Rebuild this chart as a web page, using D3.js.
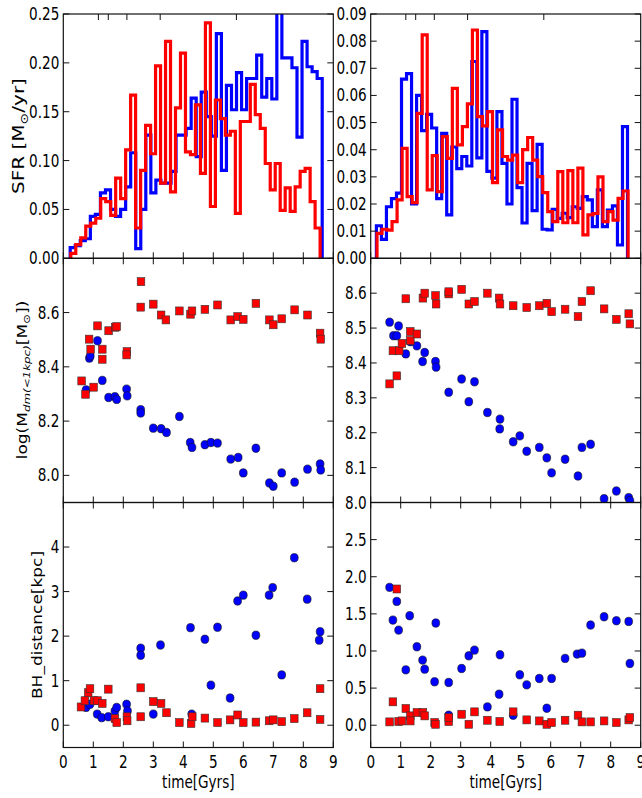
<!DOCTYPE html>
<html>
<head>
<meta charset="utf-8">
<script src="https://cdn.jsdelivr.net/npm/d3@7"></script>
<style>
  html, body { margin: 0; padding: 0; background: #fff; }
  svg { display: block; }
  text { font-family: "DejaVu Sans", sans-serif; fill: #000; }
</style>
</head>
<body>
<div id="chart"></div>
<script>
// ---- data ----
// SFR histograms, 50 equal bins between the given start / end times (Gyr)
var sfrLeftBlueRange = [0.23, 8.63];
var sfrLeftBlue = [0.011, 0.013, 0.018, 0.020, 0.043, 0.045, 0.067, 0.070, 0.050, 0.043,
                   0.050, 0.073, 0.108, 0.010, 0.050, 0.126, 0.067, 0.080, 0.077, 0.077,
                   0.089, 0.126, 0.126, 0.133, 0.164, 0.104, 0.170, 0.145, 0.125, 0.230,
                   0.090, 0.177, 0.152, 0.190, 0.152, 0.184, 0.184, 0.208, 0.165, 0.184,
                   0.163, 0.260, 0.205, 0.205, 0.195, 0.124, 0.222, 0.196, 0.191, 0.184];
var sfrLeftRedRange = [0.25, 8.56];
var sfrLeftRed = [0.005, 0.014, 0.021, 0.033, 0.036, 0.041, 0.061, 0.058, 0.044, 0.082,
                  0.061, 0.111, 0.167, 0.031, 0.090, 0.136, 0.107, 0.197, 0.077, 0.222,
                  0.068, 0.154, 0.210, 0.109, 0.106, 0.157, 0.087, 0.241, 0.053, 0.162,
                  0.143, 0.126, 0.130, 0.046, 0.140, 0.140, 0.178, 0.147, 0.133, 0.097,
                  0.070, 0.097, 0.049, 0.072, 0.048, 0.073, 0.089, 0.092, 0.058, 0.031];
var sfrRightBlueRange = [0.19, 8.56];
var sfrRightBlue = [0.012, 0.007, 0.019, 0.022, 0.024, 0.066, 0.068, 0.020, 0.060, 0.047,
                    0.053, 0.048, 0.022, 0.046, 0.016, 0.041, 0.033, 0.0375, 0.034, 0.0725,
                    0.037, 0.0835, 0.032, 0.0295, 0.054, 0.035, 0.020, 0.0586, 0.026, 0.013,
                    0.035, 0.0176, 0.042, 0.0107, 0.0105, 0.018, 0.0147, 0.0166, 0.015, 0.019,
                    0.0184, 0.0227, 0.0215, 0.0117, 0.0252, 0.0117, 0.0178, 0.0193, 0.0049, 0.0485];
var sfrRightRedRange = [0.21, 8.58];
var sfrRightRed = [0.0092, 0.0107, 0.0104, 0.0135, 0.0215, 0.0405, 0.0227, 0.0205, 0.0534, 0.0823,
                   0.0252, 0.0378, 0.0246, 0.0448, 0.0368, 0.0626, 0.0418, 0.0485, 0.0569, 0.0841,
                   0.0522, 0.0488, 0.054, 0.0279, 0.0473, 0.0375, 0.0362, 0.038, 0.0279, 0.040,
                   0.0445, 0.0362, 0.0301, 0.0242, 0.0172, 0.0135, 0.0319, 0.0131, 0.0323, 0.0131,
                   0.0332, 0.0086, 0.016, 0.0165, 0.030, 0.0135, 0.0172, 0.0141, 0.0221, 0.0248];

// log(M_dm(<1kpc)) : [time, value]
var dmLeftBlue = [[0.76,8.315],[0.87,8.432],[0.90,8.44],[1.14,8.496],[1.30,8.35],[1.51,8.287],[1.72,8.29],
  [1.78,8.28],[2.11,8.318],[2.13,8.293],[2.58,8.242],[2.58,8.23],[3.0,8.174],[3.26,8.172],[3.44,8.158],
  [3.87,8.217],[4.23,8.121],[4.29,8.103],[4.72,8.113],[4.92,8.121],[5.14,8.119],[5.58,8.06],[5.83,8.066],
  [6.0,8.009],[6.42,8.10],[6.87,7.972],[7.0,7.96],[7.28,8.009],[7.71,7.975],[8.14,8.023],[8.56,8.042],[8.58,8.02]];
var dmLeftRed = [[0.61,8.348],[0.74,8.299],[0.86,8.502],[0.91,8.465],[1.01,8.325],[1.14,8.551],[1.30,8.465],
  [1.30,8.428],[1.51,8.533],[1.73,8.546],[1.78,8.548],[2.12,8.456],[2.11,8.444],[2.59,8.714],[2.58,8.62],
  [3.0,8.631],[3.26,8.591],[3.42,8.573],[3.87,8.606],[4.24,8.594],[4.29,8.606],[4.72,8.612],[5.14,8.628],
  [5.58,8.573],[5.81,8.585],[6.0,8.575],[6.42,8.634],[6.87,8.573],[7.0,8.555],[7.28,8.577],[7.71,8.61],
  [8.14,8.591],[8.56,8.524],[8.58,8.502]];
var dmRightBlue = [[0.63,8.517],[0.76,8.478],[0.87,8.478],[0.93,8.506],[1.17,8.426],[1.32,8.461],[1.54,8.449],
  [1.73,8.404],[1.80,8.43],[2.16,8.404],[2.18,8.388],[2.60,8.316],[3.03,8.354],[3.27,8.289],[3.46,8.346],
  [3.89,8.258],[4.30,8.211],[4.31,8.239],[4.75,8.174],[4.97,8.191],[5.20,8.147],[5.62,8.158],[5.87,8.128],
  [6.03,8.085],[6.48,8.124],[6.91,8.076],[7.04,8.158],[7.33,8.167],[7.78,8.011],[8.19,8.033],[8.60,8.014],[8.64,8.005]];
var dmRightRed = [[0.63,8.34],[0.74,8.435],[0.87,8.363],[0.95,8.435],[1.04,8.456],[1.17,8.584],[1.32,8.49],
  [1.32,8.464],[1.54,8.483],[1.74,8.586],[1.80,8.60],[2.16,8.593],[2.18,8.569],[2.60,8.598],[2.60,8.604],
  [3.03,8.611],[3.27,8.569],[3.46,8.576],[3.89,8.60],[4.28,8.586],[4.31,8.569],[4.75,8.564],[5.20,8.559],
  [5.62,8.564],[5.87,8.571],[6.03,8.547],[6.48,8.554],[6.91,8.533],[7.04,8.576],[7.33,8.607],[7.78,8.555],
  [8.19,8.525],[8.60,8.541],[8.64,8.512]];

// BH distance [kpc] : [time, value]
var bhLeftBlue = [[0.76,0.40],[0.89,0.47],[1.13,0.25],[1.28,0.17],[1.50,0.19],[1.72,0.32],[1.78,0.40],
  [2.11,0.47],[2.14,0.32],[2.58,1.73],[2.58,1.57],[3.0,0.25],[3.24,1.80],[4.24,2.19],[4.28,0.25],[4.72,1.93],
  [4.92,0.90],[5.14,2.20],[5.56,0.61],[5.81,2.79],[6.0,2.92],[6.42,2.02],[6.86,2.92],[6.98,3.09],[7.28,1.13],
  [7.70,3.76],[8.13,2.83],[8.56,2.10],[8.53,1.91]];
var bhLeftRed = [[0.59,0.41],[0.72,0.55],[0.83,0.73],[0.89,0.82],[1.02,0.55],[1.14,0.55],[1.30,0.49],
  [1.50,0.81],[1.72,0.15],[1.78,0.06],[2.12,0.19],[2.13,0.10],[2.58,0.84],[2.58,0.19],[3.0,0.53],[3.26,0.49],
  [3.44,0.28],[3.87,0.06],[4.26,0.04],[4.30,0.19],[4.72,0.16],[5.14,0.06],[5.56,0.12],[5.81,0.23],[6.0,0.06],
  [6.42,0.07],[6.86,0.10],[7.0,0.12],[7.28,0.08],[7.70,0.15],[8.13,0.28],[8.56,0.82],[8.56,0.13]];
var bhRightBlue = [[0.63,1.857],[0.74,1.416],[0.87,1.668],[0.93,1.281],[1.17,0.746],[1.30,1.475],[1.54,1.057],
  [1.73,0.877],[1.80,0.755],[2.13,0.585],[2.17,1.376],[2.60,0.576],[2.60,0.135],[3.03,0.764],[3.27,0.935],
  [3.46,1.012],[3.89,0.247],[4.28,0.418],[4.31,0.949],[4.75,0.135],[4.97,0.679],[5.20,0.544],[5.62,0.63],
  [5.87,0.229],[6.03,0.63],[6.48,0.90],[6.88,0.958],[7.04,0.971],[7.33,1.349],[7.78,1.461],[8.19,1.407],
  [8.60,1.398],[8.64,0.832]];
var bhRightRed = [[0.63,0.045],[0.74,0.315],[0.87,1.835],[0.93,0.05],[1.04,0.058],[1.17,0.225],[1.32,0.126],
  [1.32,0.058],[1.54,0.171],[1.74,0.171],[1.80,0.126],[2.13,0.036],[2.16,0.013],[2.60,0.05],[2.60,0.103],
  [3.03,0.148],[3.27,0.013],[3.46,0.18],[3.89,0.067],[4.30,0.05],[4.75,0.18],[5.20,0.072],[5.62,0.058],
  [5.87,0.013],[6.03,0.036],[6.48,0.067],[6.91,0.135],[7.04,0.045],[7.33,0.045],[7.78,0.058],[8.19,0.036],
  [8.60,0.072],[8.64,0.103]];

// tick values
var timeTicks = [0, 1, 2, 3, 4, 5, 6, 7, 8, 9];
var redshiftTickTimes = [1.17, 1.5, 2.12, 3.23, 5.77];   // unlabelled ticks on the top spine
var sfrLeftTicks = [0, 0.05, 0.10, 0.15, 0.20, 0.25];
var sfrRightTicks = [0, 0.01, 0.02, 0.03, 0.04, 0.05, 0.06, 0.07, 0.08, 0.09];
var dmLeftTicks = [8.0, 8.2, 8.4, 8.6];
var dmRightTicks = [8.0, 8.1, 8.2, 8.3, 8.4, 8.5, 8.6];
var bhLeftTicks = [0, 1, 2, 3, 4];
var bhRightTicks = [0, 0.5, 1.0, 1.5, 2.0, 2.5];

// ---- layout ----
var W = 642, H = 798;
var BLUE = "#0000ff", RED = "#ff0000";
var FS = 17, SQUEEZE = 0.8;   // the figure's text is horizontally squeezed
var cols = [{x0: 63.3, x1: 333.3}, {x0: 370.7, x1: 640.7}];
var rows = [{y0: 14, y1: 258.3}, {y0: 258.3, y1: 502.5}, {y0: 502.5, y1: 747.5}];

var svg = d3.select("#chart").append("svg").attr("width", W).attr("height", H);
var defs = svg.append("defs");

function label(g, x, y, str, anchor, rotate, size) {
  var t = g.append("g")
    .attr("transform", "translate(" + x + "," + y + ") scale(" + SQUEEZE + ",1)" + (rotate ? " rotate(-90)" : ""))
    .append("text")
    .attr("text-anchor", anchor || "middle")
    .attr("font-size", size || FS);
  if (str != null) t.text(str);
  return t;
}

function makePanel(ci, ri, yDomain, yTicks, fmt, opts) {
  var c = cols[ci], r = rows[ri];
  var x = d3.scaleLinear().domain([0, 9]).range([c.x0, c.x1]);
  var y = d3.scaleLinear().domain(yDomain).range([r.y1, r.y0]);
  var id = "clip" + ci + ri;
  defs.append("clipPath").attr("id", id).append("rect")
    .attr("x", c.x0).attr("y", r.y0).attr("width", c.x1 - c.x0).attr("height", r.y1 - r.y0);
  var g = svg.append("g");
  var plot = g.append("g").attr("clip-path", "url(#" + id + ")");

  var tl = 6;
  var ticks = g.append("g").attr("stroke", "#111").attr("stroke-width", 1);
  timeTicks.forEach(function(t) {
    ticks.append("line").attr("x1", x(t)).attr("x2", x(t)).attr("y1", r.y1).attr("y2", r.y1 - tl);
  });
  var topTicks = opts.redshiftTop ? redshiftTickTimes : timeTicks;
  topTicks.forEach(function(t) {
    ticks.append("line").attr("x1", x(t)).attr("x2", x(t)).attr("y1", r.y0).attr("y2", r.y0 + tl);
  });
  yTicks.forEach(function(v) {
    ticks.append("line").attr("x1", c.x0).attr("x2", c.x0 + tl).attr("y1", y(v)).attr("y2", y(v));
    ticks.append("line").attr("x1", c.x1).attr("x2", c.x1 - tl).attr("y1", y(v)).attr("y2", y(v));
    label(g, c.x0 - 4, y(v) + 6, d3.format(fmt)(v), "end");
  });

  if (opts.xLabels) {
    timeTicks.forEach(function(t) { label(g, x(t), r.y1 + 20.5, String(t)); });
    label(g, (c.x0 + c.x1) / 2, r.y1 + 40, "time[Gyrs]");
  }

  g.append("rect")
    .attr("x", c.x0).attr("y", r.y0).attr("width", c.x1 - c.x0).attr("height", r.y1 - r.y0)
    .attr("fill", "none").attr("stroke", "#111").attr("stroke-width", 1.2);

  return {x: x, y: y, plot: plot};
}

function stepHist(p, values, range, color) {
  var bw = (range[1] - range[0]) / values.length;
  var pts = [[range[0], 0]];
  values.forEach(function(v, i) {
    pts.push([range[0] + i * bw, v]);
    pts.push([range[0] + (i + 1) * bw, v]);
  });
  pts.push([range[1], 0]);
  var line = d3.line().x(function(d) { return p.x(d[0]); }).y(function(d) { return p.y(d[1]); });
  p.plot.append("path").attr("d", line(pts))
    .attr("fill", "none").attr("stroke", color).attr("stroke-width", 3.2).attr("stroke-linejoin", "miter");
}

function circles(p, data) {
  p.plot.append("g").selectAll("ellipse").data(data).enter().append("ellipse")
    .attr("cx", function(d) { return p.x(d[0]); })
    .attr("cy", function(d) { return p.y(d[1]); })
    .attr("rx", 3.9).attr("ry", 4.2)
    .attr("fill", BLUE).attr("stroke", "#111").attr("stroke-width", 0.6);
}

function squares(p, data) {
  p.plot.append("g").selectAll("rect").data(data).enter().append("rect")
    .attr("x", function(d) { return p.x(d[0]) - 3.8; })
    .attr("y", function(d) { return p.y(d[1]) - 4.0; })
    .attr("width", 7.6).attr("height", 8.0)
    .attr("fill", RED).attr("stroke", "#333").attr("stroke-width", 0.6);
}

// top row: star formation rate
var pSfrL = makePanel(0, 0, [0, 0.25], sfrLeftTicks, ".2f", {redshiftTop: true});
stepHist(pSfrL, sfrLeftBlue, sfrLeftBlueRange, BLUE);
stepHist(pSfrL, sfrLeftRed, sfrLeftRedRange, RED);
var pSfrR = makePanel(1, 0, [0, 0.09], sfrRightTicks, ".2f", {redshiftTop: true});
stepHist(pSfrR, sfrRightBlue, sfrRightBlueRange, BLUE);
stepHist(pSfrR, sfrRightRed, sfrRightRedRange, RED);

// middle row: central dark matter mass
var pDmL = makePanel(0, 1, [7.9, 8.8], dmLeftTicks, ".1f", {});
circles(pDmL, dmLeftBlue);
squares(pDmL, dmLeftRed);
var pDmR = makePanel(1, 1, [8.0, 8.7], dmRightTicks, ".1f", {});
circles(pDmR, dmRightBlue);
squares(pDmR, dmRightRed);

// bottom row: black hole distance
var pBhL = makePanel(0, 2, [-0.5, 5], bhLeftTicks, "d", {xLabels: true});
circles(pBhL, bhLeftBlue);
squares(pBhL, bhLeftRed);
var pBhR = makePanel(1, 2, [-0.3, 3.0], bhRightTicks, ".1f", {xLabels: true});
circles(pBhR, bhRightBlue);
squares(pBhR, bhRightRed);

// y axis titles
var t1 = label(svg, 24, 136, null, "middle", true, 20);
t1.append("tspan").text("SFR [M");
t1.append("tspan").attr("dy", 5).attr("font-size", 14).text("\u2299");
t1.append("tspan").attr("dy", -5).text("/yr]");

var t2 = label(svg, 27, 380, null, "middle", true);
t2.append("tspan").text("log(M");
t2.append("tspan").attr("dy", 4).attr("font-size", FS * 0.7).attr("font-style", "italic").text("dm(<1kpc)");
t2.append("tspan").attr("dy", -4).text("[M");
t2.append("tspan").attr("dy", 4).attr("font-size", FS * 0.7).text("\u2299");
t2.append("tspan").attr("dy", -4).text("])");

label(svg, 42, 625, "BH_distance[kpc]", "middle", true);
</script>
</body>
</html>
